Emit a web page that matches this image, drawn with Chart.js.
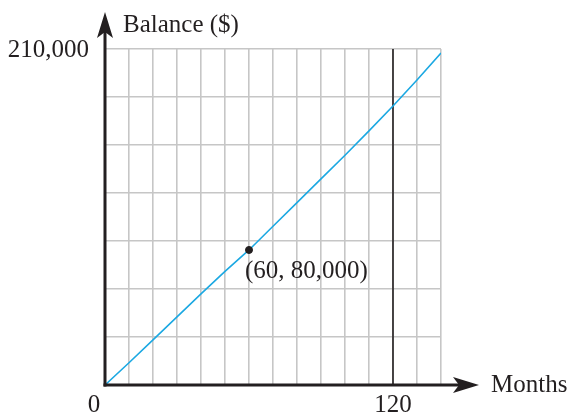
<!DOCTYPE html>
<html>
<head>
<meta charset="utf-8">
<script src="https://cdn.jsdelivr.net/npm/chart.js@4.4.0/dist/chart.umd.min.js"></script>
<style>
  html, body { margin: 0; padding: 0; background: #fff; }
  #wrap { width: 574px; height: 414px; }
</style>
</head>
<body>
<div id="wrap"><canvas id="balance_chart"></canvas></div>
<script>
// values
var months = [0, 10, 20, 30, 40, 50, 60, 70, 80, 90, 100, 110, 120, 130, 140];
var balance = [0, 13900, 28200, 42600, 57000, 71000, 84400, 99200, 114000, 128800, 143600, 158800, 174400, 190600, 207500];
var markMonth = 60;
var markLabel = "(60, 80,000)";
var cutoffMonth = 120;
var xTickLabels = ["0", "120"];
var xTickValues = [0, 120];
var yTopLabel = "210,000";
var yMax = 210000;
var xMax = 140;

var serif = "'Liberation Serif', 'DejaVu Serif', serif";

let lineData = [];
for (let i = 0; i < months.length; i++) {
    lineData.push({x: months[i], y: balance[i]});
}
let markData = [{x: markMonth, y: balance[months.indexOf(markMonth)]}];
let cutoffData = [{x: cutoffMonth, y: 0}, {x: cutoffMonth, y: yMax}];

function arrowHead(ctx, tipX, tipY, dir) {
    // dir: "up" or "right"
    ctx.beginPath();
    if (dir == "up") {
        ctx.moveTo(tipX, tipY);
        ctx.lineTo(tipX + 8, tipY + 26);
        ctx.lineTo(tipX, tipY + 20);
        ctx.lineTo(tipX - 8, tipY + 26);
    } else {
        ctx.moveTo(tipX, tipY);
        ctx.lineTo(tipX - 26, tipY - 8);
        ctx.lineTo(tipX - 20, tipY);
        ctx.lineTo(tipX - 26, tipY + 8);
    }
    ctx.closePath();
    ctx.fill();
}

const axesPlugin = {
    id: "axesPlugin",
    afterDraw: function(chart) {
        let ctx = chart.ctx;
        let xs = chart.scales.x;
        let ys = chart.scales.y;
        let x0 = xs.getPixelForValue(0);
        let y0 = ys.getPixelForValue(0);
        let yTop = ys.getPixelForValue(yMax);
        ctx.save();
        ctx.strokeStyle = "#231f20";
        ctx.fillStyle = "#231f20";
        ctx.lineWidth = 3;
        // y axis
        ctx.beginPath();
        ctx.moveTo(x0, y0 + 1.5);
        ctx.lineTo(x0, 30);
        ctx.stroke();
        arrowHead(ctx, x0, 12, "up");
        // x axis
        ctx.beginPath();
        ctx.moveTo(x0 - 1.5, y0);
        ctx.lineTo(460, y0);
        ctx.stroke();
        arrowHead(ctx, 479, y0, "right");

        ctx.font = "25px " + serif;
        ctx.textBaseline = "alphabetic";
        ctx.textAlign = "right";
        ctx.fillText(yTopLabel, 89, yTop + 8);
        ctx.textAlign = "center";
        for (let i = 0; i < xTickValues.length; i++) {
            let px = xs.getPixelForValue(xTickValues[i]);
            if (xTickValues[i] == 0) px -= 11;
            ctx.fillText(xTickLabels[i], px, 412);
        }
        ctx.textAlign = "left";
        ctx.fillText("Balance ($)", 123, 32);
        ctx.fillText("Months", 491, 392);
        let mx = xs.getPixelForValue(markData[0].x);
        let my = ys.getPixelForValue(markData[0].y);
        ctx.fillText(markLabel, mx - 4, my + 28);
        ctx.restore();
    }
};

new Chart("balance_chart", {
    type: "scatter",
    data: {
        datasets: [
            {
                data: lineData,
                showLine: true,
                borderColor: "#1ba8e2",
                borderWidth: 1.6,
                pointRadius: 0,
                tension: 0,
                order: 2
            },
            {
                data: cutoffData,
                showLine: true,
                borderColor: "#231f20",
                borderWidth: 1.6,
                pointRadius: 0,
                order: 3
            },
            {
                data: markData,
                pointRadius: 3.5,
                pointBackgroundColor: "#231f20",
                pointBorderColor: "#231f20",
                order: 1
            }
        ]
    },
    options: {
        responsive: true,
        maintainAspectRatio: false,
        animation: false,
        layout: {
            padding: {left: 105, top: 49, right: 133, bottom: 29}
        },
        scales: {
            x: {
                type: "linear",
                min: 0,
                max: xMax,
                ticks: {display: false, stepSize: 10},
                border: {display: false},
                grid: {color: "#c6c6c6", lineWidth: 1.6, drawTicks: false}
            },
            y: {
                type: "linear",
                min: 0,
                max: yMax,
                ticks: {display: false, stepSize: 30000},
                border: {display: false},
                grid: {color: "#c6c6c6", lineWidth: 1.6, drawTicks: false}
            }
        },
        plugins: {
            legend: {display: false},
            tooltip: {enabled: false}
        }
    },
    plugins: [axesPlugin]
});
</script>
</body>
</html>
